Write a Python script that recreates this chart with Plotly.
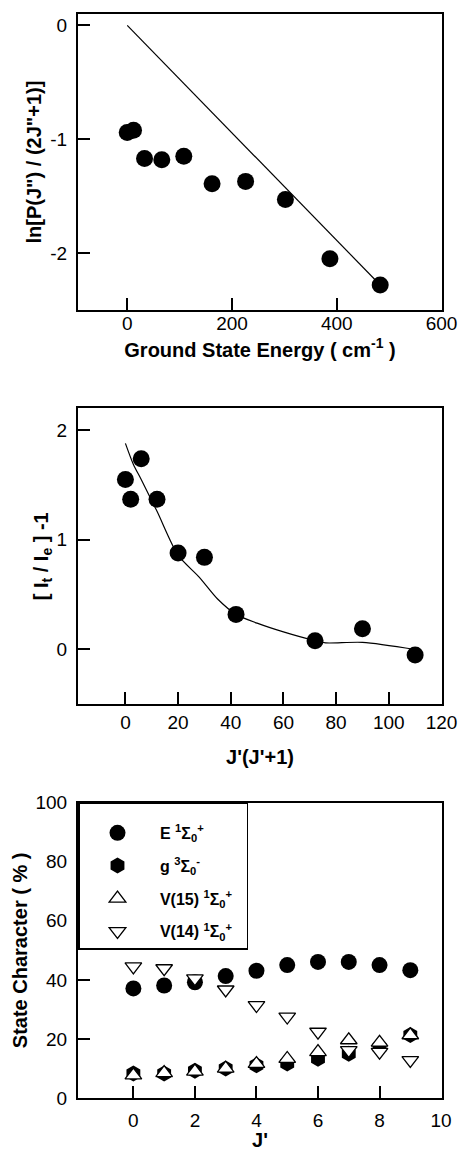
import plotly.graph_objects as go

# ---------------- data ----------------
# Panel 1: ln[P(J'')/(2J''+1)] vs ground state energy
energy = [0, 12, 33, 66, 108, 162, 226, 302, 387, 483]
ln_pop = [-0.94, -0.92, -1.17, -1.18, -1.15, -1.39, -1.37, -1.53, -2.05, -2.28]
fit_energy = [0, 483]
fit_ln = [0.0, -2.28]

# Panel 2: [It/Ie]-1 vs J'(J'+1)
jj = [0, 2, 6, 12, 20, 30, 42, 72, 90, 110]
ratio = [1.55, 1.37, 1.74, 1.37, 0.88, 0.84, 0.32, 0.08, 0.19, -0.05]
curve_jj = [0, 3, 6, 12, 20, 28, 35, 42, 50, 60, 72, 76, 90, 110]
curve_ratio = [1.88, 1.69, 1.55, 1.26, 0.86, 0.66, 0.46, 0.32, 0.24, 0.16, 0.08, 0.06, 0.065, 0.0]

# Panel 3: state character (%) vs J'
jp = [0, 1, 2, 3, 4, 5, 6, 7, 8, 9]
E_state = [37.1, 38.1, 39.2, 41.3, 43.1, 45.0, 46.1, 46.1, 45.0, 43.3]
g_state = [8.3, 8.3, 9.2, 10.0, 11.1, 11.7, 13.3, 15.0, 17.2, 21.3]
V15_state = [7.7, 8.5, 9.0, 10.0, 11.6, 13.3, 15.6, 19.6, 18.8, 21.3]
V14_state = [44.5, 43.9, 40.5, 36.7, 31.4, 27.5, 22.4, 16.2, 15.6, 12.8]

names = ["E <sup>1</sup>Σ<sub>0</sub><sup>+</sup>",
         "g <sup>3</sup>Σ<sub>0</sub><sup>-</sup>",
         "V(15) <sup>1</sup>Σ<sub>0</sub><sup>+</sup>",
         "V(14) <sup>1</sup>Σ<sub>0</sub><sup>+</sup>"]

# tick labels (hyphen minus as in the reference)
y1_ticks = [0, -1, -2]
y1_labels = ["0", "-1", "-2"]
x1_ticks = [0, 200, 400, 600]
x1_labels = ["0", "200", "400", "600"]
x2_ticks = [0, 20, 40, 60, 80, 100, 120]
x2_labels = ["0", "20", "40", "60", "80", "100", "120"]
y2_ticks = [0, 1, 2]
y2_labels = ["0", "1", "2"]
x3_ticks = [0, 2, 4, 6, 8, 10]
x3_labels = ["0", "2", "4", "6", "8", "10"]
y3_ticks = [0, 20, 40, 60, 80, 100]
y3_labels = ["0", "20", "40", "60", "80", "100"]

FONT = "Liberation Sans, Arial, Helvetica, sans-serif"

fig = go.Figure()

# Panel 1
fig.add_trace(go.Scatter(x=fit_energy, y=fit_ln, mode="lines",
                         line=dict(color="black", width=1.2),
                         showlegend=False, xaxis="x", yaxis="y"))
fig.add_trace(go.Scatter(x=energy, y=ln_pop, mode="markers",
                         marker=dict(color="black", size=17, symbol="circle"),
                         showlegend=False, xaxis="x", yaxis="y"))

# Panel 2
fig.add_trace(go.Scatter(x=curve_jj, y=curve_ratio, mode="lines",
                         line=dict(color="black", width=1.2, shape="spline", smoothing=0.8),
                         showlegend=False, xaxis="x2", yaxis="y2"))
fig.add_trace(go.Scatter(x=jj, y=ratio, mode="markers",
                         marker=dict(color="black", size=17, symbol="circle"),
                         showlegend=False, xaxis="x2", yaxis="y2"))

# Panel 3
pad = "\u00a0"
fig.add_trace(go.Scatter(x=jp, y=E_state, mode="markers", name=pad + names[0],
                         legendgroup="a",
                         marker=dict(color="black", size=16, symbol="circle"),
                         xaxis="x3", yaxis="y3"))
fig.add_trace(go.Scatter(x=jp, y=g_state, mode="markers", name=pad + names[1],
                         legendgroup="b",
                         marker=dict(color="black", size=16, symbol="hexagon"),
                         xaxis="x3", yaxis="y3"))
fig.add_trace(go.Scatter(x=jp, y=V15_state, mode="markers", name=pad + names[2],
                         legendgroup="c",
                         marker=dict(color="white", size=14.5, symbol="triangle-up",
                                     line=dict(color="black", width=1.3)),
                         xaxis="x3", yaxis="y3"))
fig.add_trace(go.Scatter(x=jp, y=V14_state, mode="markers", name=pad + names[3] + pad * 2,
                         legendgroup="d",
                         marker=dict(color="white", size=14.5, symbol="triangle-down",
                                     line=dict(color="black", width=1.3)),
                         xaxis="x3", yaxis="y3"))

axis_common = dict(showline=True, linecolor="black", linewidth=2, mirror=True,
                   ticks="inside", ticklen=12, tickwidth=1.5, tickcolor="black",
                   showgrid=False, zeroline=False, automargin=False,
                   tickfont=dict(family=FONT, size=19, color="black"))
title_font = dict(family=FONT, size=20, color="black", weight="bold")

fig.update_layout(
    width=461, height=1151,
    margin=dict(l=78, r=19, t=14, b=53),
    paper_bgcolor="white", plot_bgcolor="white",
    font=dict(family=FONT, color="black"),
    xaxis=dict(domain=[0, 1], range=[-94, 601], tickvals=x1_ticks, ticktext=x1_labels, anchor="y",
               ticklabelstandoff=-5,
               title=dict(text="Ground State Energy ( cm<sup>-1</sup> )", font=title_font, standoff=10),
               **axis_common),
    yaxis=dict(domain=[0.7269, 1.0], range=[-2.5, 0.1], tickvals=y1_ticks, ticktext=y1_labels, anchor="x",
               ticklabelstandoff=5,
               title=dict(text="ln[P(J\") / (2J\"+1)]", font=title_font, standoff=3),
               **axis_common),
    xaxis2=dict(domain=[0, 1], range=[-18, 120.2], tickvals=x2_ticks, ticktext=x2_labels, anchor="y2",
                ticklabelstandoff=0,
                title=dict(text="J'(J'+1)", font=title_font, standoff=18),
                **axis_common),
    yaxis2=dict(domain=[0.3632, 0.6363], range=[-0.5, 2.2], tickvals=y2_ticks, ticktext=y2_labels, anchor="x2",
                ticklabelstandoff=5,
                title=dict(text="[ I<sub>t</sub> / I<sub>e</sub> ] -1", font=title_font, standoff=3),
                **axis_common),
    xaxis3=dict(domain=[0, 1], range=[-1.8, 10.03], tickvals=x3_ticks, ticktext=x3_labels, anchor="y3",
                ticklabelstandoff=4,
                title=dict(text="J'", font=title_font, standoff=6),
                **axis_common),
    yaxis3=dict(domain=[0, 0.2724], range=[0, 100], tickvals=y3_ticks, ticktext=y3_labels, anchor="x3",
                ticklabelstandoff=5,
                title=dict(text="State Character ( % )", font=title_font, standoff=2),
                **axis_common),
    showlegend=True,
    legend=dict(x=0, y=0.2724, xanchor="left", yanchor="top",
                bgcolor="white", bordercolor="black", borderwidth=1.5,
                font=dict(family=FONT, size=16, color="black", weight="bold"),
                itemwidth=66, tracegroupgap=9, traceorder="grouped",
                title=dict(text="\u00a0", font=dict(size=9))),
)

fig.write_html("out.html",
               config={"displayModeBar": False},
               post_script="document.body.style.margin='0';document.body.style.padding='0';")
